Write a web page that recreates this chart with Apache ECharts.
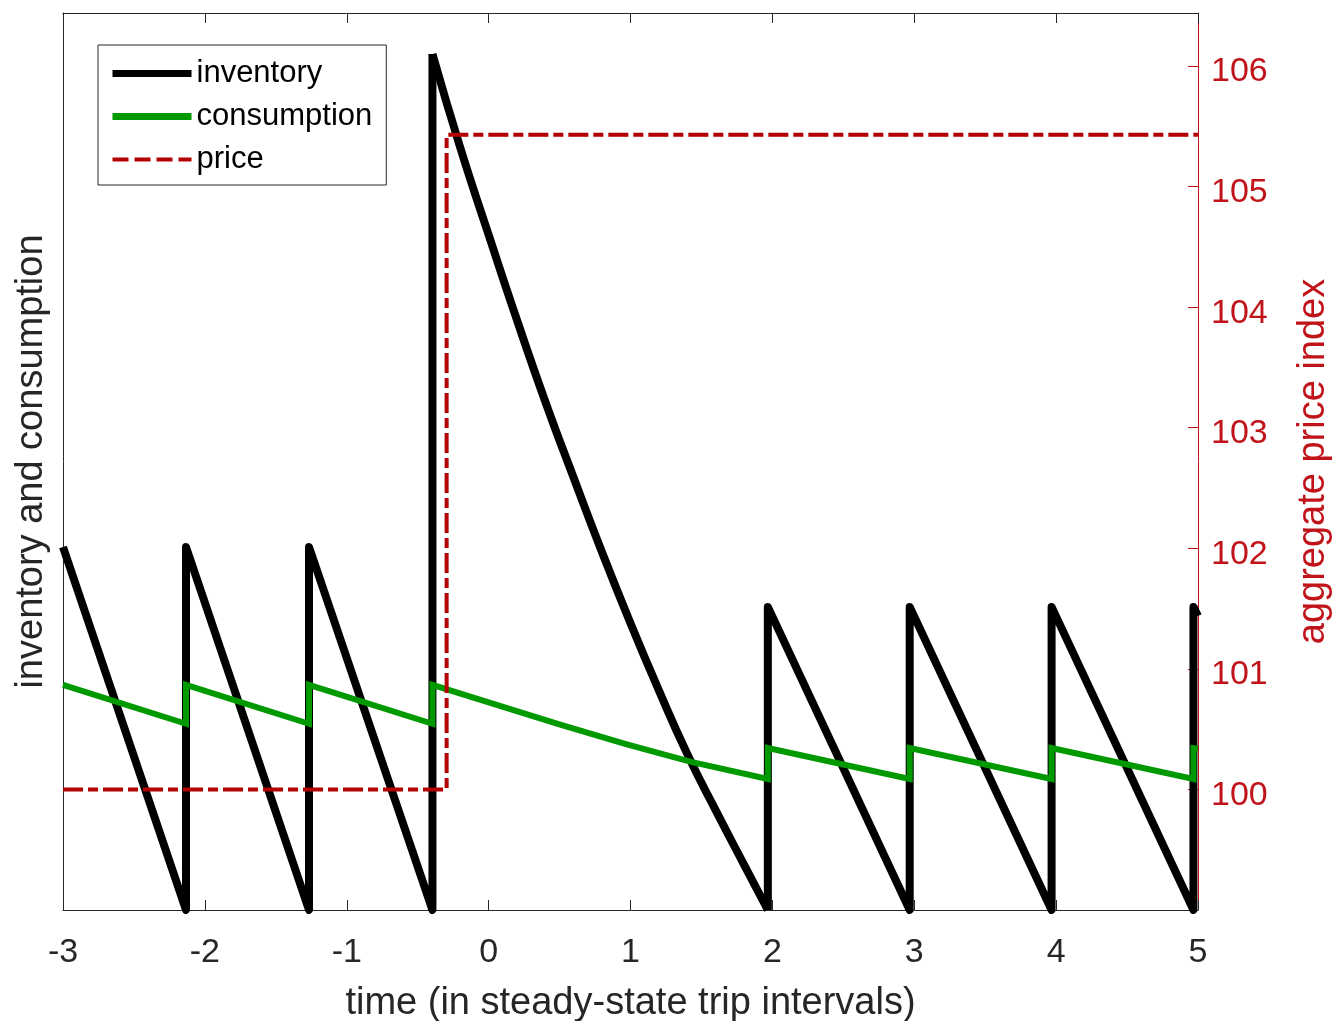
<!DOCTYPE html>
<html>
<head>
<meta charset="utf-8">
<script src="https://cdn.jsdelivr.net/npm/echarts@6/dist/echarts.min.js"></script>
<style>
html,body{margin:0;padding:0;background:#fff;overflow:hidden;}
#chart{width:1335px;height:1021px;}
</style>
</head>
<body>
<div id="chart"></div>
<script>
// time axis: steady-state trip intervals
const inventoryPreX = [-3, -2.133, -2.133, -1.266, -1.266, -0.396, -0.396];
const inventoryPreY = [1.0, 0, 1.0, 0, 1.0, 0, 2.358];
const inventoryShockX = [-0.396, -0.2, 0.0, 0.2, 0.4, 0.6, 0.8, 1.0, 1.2, 1.4, 1.6, 1.8, 1.968];
const inventoryShockY = [2.358, 2.10, 1.86, 1.625, 1.40, 1.19, 0.985, 0.79, 0.605, 0.43, 0.275, 0.125, 0];
const inventoryPostX = [1.968, 1.968, 2.968, 2.968, 3.968, 3.968, 4.968, 4.968, 5.0];
const inventoryPostY = [0, 0.835, 0, 0.835, 0, 0.835, 0, 0.835, 0.81];
const consumptionX = [-3, -2.133, -2.133, -1.266, -1.266, -0.396, -0.396, 0.0, 0.51, 0.968, 1.427, 1.968, 1.968, 2.968, 2.968, 3.968, 3.968, 4.968, 4.968, 5.0];
const consumptionY = [0.620, 0.513, 0.620, 0.513, 0.620, 0.513, 0.620, 0.572, 0.510, 0.457, 0.408, 0.361, 0.446, 0.361, 0.446, 0.361, 0.446, 0.361, 0.446, 0.445];
const priceX = [-3, -0.296, -0.296, 5];
const priceY = [100, 100, 105.43, 105.43];
const xTicks = [-3, -2, -1, 0, 1, 2, 3, 4, 5];
const priceTicks = [100, 101, 102, 103, 104, 105, 106];

const zip = (a, b) => a.map((v, i) => [v, b[i]]);
const FONT = 'Liberation Sans';
const AX = '#262626';
const RED = '#b30000';
const REDTXT = '#c0141a';
const GREEN = '#009a00';

const invStyle = {color: '#000', width: 8, join: 'round', cap: 'butt'};

const el = document.getElementById('chart');
const chart = echarts.init(el, null, {renderer: 'canvas'});
chart.setOption({
  animation: false,
  backgroundColor: '#fff',
  grid: {left: 63, right: 137, top: 13, bottom: 111, containLabel: false, outerBoundsMode: 'none'},
  legend: {
    orient: 'vertical', left: 98, top: 45,
    padding: [13, 14, 10, 11],
    itemGap: 12,
    itemWidth: 79, itemHeight: 20,
    borderColor: AX, borderWidth: 1, backgroundColor: '#fff',
    itemStyle: {opacity: 0},
    textStyle: {fontFamily: FONT, fontSize: 31, color: '#000'},
    data: [
      {name: 'inventory', lineStyle: {width: 7}, itemStyle: {opacity: 0}},
      {name: 'consumption', lineStyle: {width: 7}, itemStyle: {opacity: 0}},
      {name: 'price', lineStyle: {width: 4, type: [16, 6]}, itemStyle: {opacity: 0}}
    ]
  },
  xAxis: [{
    type: 'value', min: xTicks[0], max: xTicks[xTicks.length - 1], interval: 1,
    position: 'bottom',
    name: 'time (in steady-state trip intervals)', nameLocation: 'middle', nameGap: 75,
    nameTextStyle: {fontFamily: FONT, fontSize: 38, color: AX},
    axisLine: {show: true, onZero: false, lineStyle: {color: AX, width: 1}},
    axisTick: {show: true, inside: true, length: 10, lineStyle: {color: AX}},
    axisLabel: {fontFamily: FONT, fontSize: 34, color: AX, margin: 26},
    splitLine: {show: false}
  }, {
    type: 'value', min: xTicks[0], max: xTicks[xTicks.length - 1], interval: 1,
    position: 'top',
    axisLine: {show: true, onZero: false, lineStyle: {color: AX, width: 1}},
    axisTick: {show: true, inside: true, length: 10, lineStyle: {color: AX}},
    axisLabel: {show: false},
    splitLine: {show: false}
  }],
  yAxis: [{
    type: 'value', min: 0, max: 2.471, position: 'left',
    name: 'inventory and consumption', nameLocation: 'middle', nameGap: 12,
    nameTextStyle: {fontFamily: FONT, fontSize: 38, color: AX},
    axisLine: {show: true, onZero: false, lineStyle: {color: AX, width: 1}},
    axisTick: {show: false},
    axisLabel: {show: false},
    splitLine: {show: false}
  }, {
    type: 'value', min: 99, max: 106.44, interval: 1, position: 'right',
    name: 'aggregate price index', nameLocation: 'middle', nameGap: 97,
    nameTextStyle: {fontFamily: FONT, fontSize: 38, color: REDTXT},
    axisLine: {show: true, onZero: false, lineStyle: {color: REDTXT, width: 1}},
    axisTick: {show: true, inside: true, length: 10, lineStyle: {color: REDTXT}},
    axisLabel: {fontFamily: FONT, fontSize: 34, color: REDTXT, margin: 13,
      verticalAlign: 'top', lineHeight: 12,
      showMinLabel: false, showMaxLabel: false,
      formatter: v => priceTicks.indexOf(v) >= 0 ? String(v) : ''},
    splitLine: {show: false}
  }],
  series: [{
    name: 'inventory', type: 'line', xAxisIndex: 0, yAxisIndex: 0,
    data: zip(inventoryPreX, inventoryPreY), symbol: 'none', showSymbol: false,
    lineStyle: invStyle, itemStyle: {color: '#000'}, clip: true, z: 2
  }, {
    name: 'inventory', type: 'line', xAxisIndex: 0, yAxisIndex: 0,
    data: zip(inventoryShockX, inventoryShockY), symbol: 'none', showSymbol: false,
    smooth: true,
    lineStyle: invStyle, itemStyle: {color: '#000'}, clip: true, z: 2
  }, {
    name: 'inventory', type: 'line', xAxisIndex: 0, yAxisIndex: 0,
    data: zip(inventoryPostX, inventoryPostY), symbol: 'none', showSymbol: false,
    lineStyle: invStyle, itemStyle: {color: '#000'}, clip: true, z: 2
  }, {
    name: 'consumption', type: 'line', xAxisIndex: 0, yAxisIndex: 0,
    data: zip(consumptionX, consumptionY), symbol: 'none', showSymbol: false,
    lineStyle: {color: GREEN, width: 6, join: 'miter'},
    itemStyle: {color: GREEN}, clip: true, z: 3
  }, {
    name: 'price', type: 'line', xAxisIndex: 0, yAxisIndex: 1,
    data: zip(priceX, priceY), symbol: 'none', showSymbol: false,
    lineStyle: {color: RED, width: 4, type: [20, 5, 10, 5]},
    itemStyle: {color: RED}, clip: true, z: 4
  }]
});
</script>
</body>
</html>
